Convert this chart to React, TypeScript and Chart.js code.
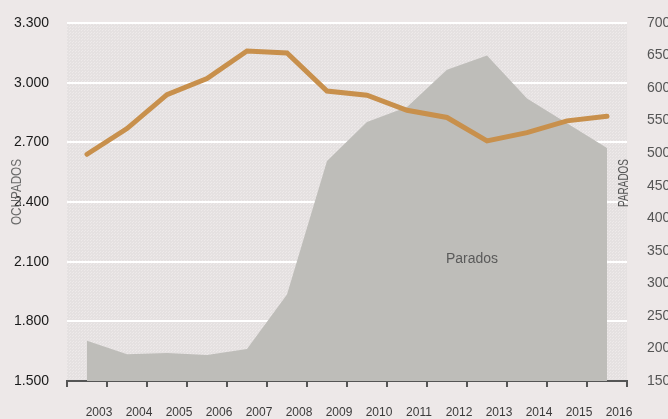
import React, { useEffect, useRef } from "react";
import { Chart, registerables } from "chart.js";

Chart.register(...registerables);

const years = ["2003", "2004", "2005", "2006", "2007", "2008", "2009", "2010", "2011", "2012", "2013", "2014", "2015", "2016"];
const ocupados = [2640, 2769, 2940, 3021, 3159, 3149, 2958, 2937, 2861, 2825, 2707, 2749, 2808, 2831];
const parados = [212, 191, 193, 190, 199, 283, 488, 548, 571, 628, 650, 584, 546, 508];
const leftTicks = [1500, 1800, 2100, 2400, 2700, 3000, 3300];
const rightTicks = [150, 200, 250, 300, 350, 400, 450, 500, 550, 600, 650, 700];

const REGULAR = "'Liberation Sans', Arial, sans-serif";
const PAGE_BG = "#ede8e8";

const fmt = (v: number) => String(v).replace(/\B(?=(\d{3})+(?!\d))/g, ".");

function makePattern(ctx: CanvasRenderingContext2D) {
  const c = document.createElement("canvas");
  c.width = 3;
  c.height = 3;
  const p = c.getContext("2d")!;
  p.fillStyle = "#e5e1e1";
  p.fillRect(0, 0, 3, 3);
  p.fillStyle = "#eeeaea";
  p.fillRect(0, 0, 1, 1);
  p.fillRect(1, 2, 1, 1);
  return ctx.createPattern(c, "repeat");
}

function narrowText(ctx: CanvasRenderingContext2D, text: string, x: number, y: number, targetWidth: number) {
  const w = ctx.measureText(text).width;
  ctx.save();
  ctx.translate(x, y);
  ctx.rotate(-Math.PI / 2);
  ctx.scale(targetWidth / w, 1);
  ctx.fillText(text, 0, 0);
  ctx.restore();
}

const bgPlugin = {
  id: "bgPlugin",
  beforeDraw(chart: any) {
    const { ctx, chartArea } = chart;
    ctx.save();
    ctx.fillStyle = PAGE_BG;
    ctx.fillRect(0, 0, chart.width, chart.height);
    const pat = makePattern(ctx);
    ctx.fillStyle = pat || "#e8e4e4";
    ctx.fillRect(chartArea.left, chartArea.top, chartArea.right - chartArea.left, chartArea.bottom - chartArea.top);
    ctx.restore();
  },
  afterDraw(chart: any) {
    const { ctx, chartArea } = chart;
    ctx.save();
    ctx.textAlign = "center";
    ctx.textBaseline = "middle";
    ctx.font = `15px ${REGULAR}`;
    ctx.fillStyle = "#6a6a6a";
    narrowText(ctx, "OCUPADOS", 17, 192, 66);
    ctx.fillStyle = "#555555";
    narrowText(ctx, "PARADOS", chartArea.right - 3.5, 183, 48);
    ctx.fillStyle = "#5a5a5a";
    ctx.font = `14px ${REGULAR}`;
    ctx.fillText("Parados", 472, 259);
    ctx.restore();
  },
};

export default function App() {
  const ref = useRef<HTMLCanvasElement>(null);
  useEffect(() => {
    const canvas = ref.current!;
    const chart = new Chart(canvas, {
      type: "line",
      data: {
        labels: years,
        datasets: [
          {
            label: "Ocupados",
            data: ocupados,
            yAxisID: "y",
            borderColor: "#c8904c",
            borderWidth: 5,
            borderCapStyle: "round",
            pointRadius: 0,
            tension: 0,
            fill: false,
            order: 0,
          },
          {
            label: "Parados",
            data: parados,
            yAxisID: "y1",
            borderWidth: 0,
            borderColor: "rgba(0,0,0,0)",
            backgroundColor: "#bebdb9",
            pointRadius: 0,
            tension: 0,
            fill: "start",
            order: 1,
          },
        ],
      },
      options: {
        responsive: false,
        animation: false,
        layout: { padding: { top: 23, left: 0, right: 0, bottom: 0 } },
        plugins: { legend: { display: false }, tooltip: { enabled: false } },
        scales: {
          x: {
            offset: true,
            grid: { offset: true, drawOnChartArea: false, drawTicks: true, tickLength: 6, color: "#555555", lineWidth: 2 },
            border: { display: true, color: "#555555", width: 2 },
            ticks: { font: { family: REGULAR, size: 12 }, color: "#3a3a3a", labelOffset: 12, padding: 18, maxRotation: 0, autoSkip: false },
            afterFit: (s: any) => { s.height = 38; s.paddingLeft = 0; s.paddingRight = 0; },
          },
          y: {
            position: "left",
            min: 1500,
            max: 3300,
            afterBuildTicks: (s: any) => { s.ticks = leftTicks.map((v) => ({ value: v })); },
            grid: {
              drawTicks: false,
              lineWidth: 2,
              color: (c: any) => (c.tick && c.tick.value === 1500 ? "rgba(0,0,0,0)" : "#ffffff"),
            },
            border: { display: false },
            ticks: { font: { family: REGULAR, size: 14 }, color: "#1a1a1a", padding: 18, callback: (v: any) => fmt(Number(v)) },
            afterFit: (s: any) => { s.width = 67; s.paddingTop = 0; s.paddingBottom = 0; },
          },
          y1: {
            position: "right",
            min: 150,
            max: 700,
            afterBuildTicks: (s: any) => { s.ticks = rightTicks.map((v) => ({ value: v })); },
            grid: { drawOnChartArea: false, drawTicks: false },
            border: { display: false },
            ticks: { font: { family: REGULAR, size: 14 }, color: "#555555", padding: 20, callback: (v: any) => String(v) },
            afterFit: (s: any) => { s.width = 41; s.paddingTop = 0; s.paddingBottom = 0; },
          },
        },
      },
      plugins: [bgPlugin],
    } as any);
    return () => chart.destroy();
  }, []);
  return (
    <div style={{ position: "fixed", left: 0, top: 0, width: 668, height: 419, background: PAGE_BG }}>
      <canvas ref={ref} width={668} height={419} style={{ display: "block" }} />
    </div>
  );
}
